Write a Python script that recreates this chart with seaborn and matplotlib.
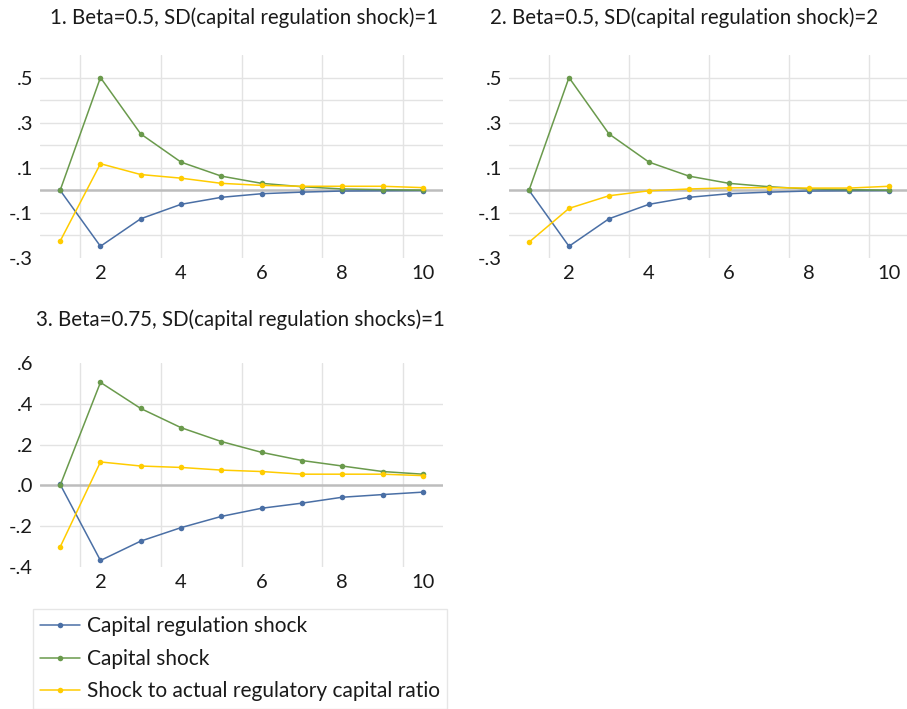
import numpy as np
import pandas as pd
import matplotlib
matplotlib.use("Agg")
import matplotlib.pyplot as plt
import seaborn as sns

# ---------------- data ----------------
periods = list(range(1, 11))
series_names = ["Capital regulation shock", "Capital shock",
                "Shock to actual regulatory capital ratio"]

p1_reg = [0.0, -0.248, -0.126, -0.062, -0.031, -0.015, -0.008, -0.003, -0.002, -0.001]
p1_cap = [0.0, 0.500, 0.250, 0.125, 0.063, 0.031, 0.016, 0.006, 0.003, 0.001]
p1_act = [-0.225, 0.118, 0.070, 0.054, 0.031, 0.022, 0.018, 0.018, 0.018, 0.012]

p2_reg = [0.0, -0.248, -0.126, -0.062, -0.031, -0.015, -0.008, -0.003, -0.002, -0.001]
p2_cap = [0.0, 0.500, 0.250, 0.125, 0.063, 0.031, 0.016, 0.006, 0.003, 0.001]
p2_act = [-0.230, -0.080, -0.024, -0.002, 0.006, 0.011, 0.012, 0.010, 0.010, 0.018]

p3_reg = [0.005, -0.368, -0.273, -0.207, -0.152, -0.112, -0.087, -0.058, -0.045, -0.033]
p3_cap = [0.0, 0.505, 0.377, 0.283, 0.215, 0.162, 0.122, 0.095, 0.068, 0.055]
p3_act = [-0.302, 0.115, 0.095, 0.088, 0.075, 0.068, 0.055, 0.055, 0.055, 0.048]

titles = ["1. Beta=0.5, SD(capital regulation shock)=1",
          "2. Beta=0.5, SD(capital regulation shock)=2",
          "3. Beta=0.75, SD(capital regulation shocks)=1"]

x_ticks = [2, 4, 6, 8, 10]
x_tick_labels = ["2", "4", "6", "8", "10"]
y_ticks_12 = [0.5, 0.3, 0.1, -0.1, -0.3]
y_labels_12 = [".5", ".3", ".1", "-.1", "-.3"]
y_ticks_3 = [0.6, 0.4, 0.2, 0.0, -0.2, -0.4]
y_labels_3 = [".6", ".4", ".2", ".0", "-.2", "-.4"]

colors = ["#4a6fa5", "#6a9a4c", "#ffcc00"]

# ---------------- style ----------------
sns.set_theme(style="white")
plt.rcParams["font.family"] = ["Lato", "DejaVu Sans"]

W, H = 907, 709
fig = plt.figure(figsize=(W / 100, H / 100), dpi=100)


def px_axes(left, top, right, bottom):
    return fig.add_axes([left / W, 1 - bottom / H, (right - left) / W, (bottom - top) / H])


def make_df(reg, cap, act):
    return pd.DataFrame({
        "period": periods * 3,
        "value": reg + cap + act,
        "series": [series_names[0]] * 10 + [series_names[1]] * 10 + [series_names[2]] * 10,
    })


panels = [
    (make_df(p1_reg, p1_cap, p1_act), (40, 55, 443, 258), (-0.3, 0.6),
     y_ticks_12, y_labels_12, np.round(np.arange(-0.2, 0.55, 0.1), 2), (244, 18), 10.5),
    (make_df(p2_reg, p2_cap, p2_act), (509, 55, 907, 258), (-0.3, 0.6),
     y_ticks_12, y_labels_12, np.round(np.arange(-0.2, 0.55, 0.1), 2), (684, 18), 10.45),
    (make_df(p3_reg, p3_cap, p3_act), (40, 363, 443, 567), (-0.4, 0.6),
     y_ticks_3, y_labels_3, [0.4, 0.2, -0.2], (240, 320), 10.5),
]

tick_fs = 14.5
axes = []
for df, box, ylim, yt, yl, ygrid, tpos, xmax in panels:
    ax = px_axes(*box)
    axes.append(ax)
    # grid lines
    for gx in [1.5, 3.5, 5.5, 7.5, 9.5]:
        ax.axvline(gx, color="#e3e3e3", lw=1.0, zorder=0)
    for gy in ygrid:
        if abs(gy) > 1e-9:
            ax.axhline(gy, color="#e3e3e3", lw=1.0, zorder=0)
    ax.axhline(0, color="#bdbdbd", lw=1.8, zorder=1)

    sns.lineplot(data=df, x="period", y="value", hue="series", hue_order=series_names,
                 palette=colors, marker="o", markersize=4, markeredgewidth=0,
                 linewidth=1.1, ax=ax, legend=True, zorder=3)
    ax.set_xlim(0.5, xmax)
    ax.set_ylim(*ylim)
    ax.set_xticks(x_ticks)
    ax.set_xticklabels(x_tick_labels, fontsize=tick_fs)
    ax.set_yticks(yt)
    ax.set_yticklabels(yl, fontsize=tick_fs)
    ax.tick_params(axis="both", length=0, pad=5, colors="#1a1a1a")
    ax.set_xlabel("")
    ax.set_ylabel("")
    for s in ax.spines.values():
        s.set_visible(False)
    ax.grid(False)
    ax.get_legend().remove()
    fig.text(tpos[0] / W, 1 - tpos[1] / H, titles[len(axes) - 1], ha="center", va="center",
             fontsize=14.8, color="#1a1a1a")

handles, labels = axes[0].get_legend_handles_labels()
leg = fig.legend(handles, labels, loc="upper left",
                 bbox_to_anchor=(33 / W, 1 - 609 / H - 0.01, 414 / W, 0.01), mode="expand",
                 fontsize=15, frameon=True, fancybox=False, handlelength=1.9,
                 handletextpad=0.35, labelspacing=0.6, borderpad=0.35,
                 borderaxespad=0)
leg.get_frame().set_edgecolor("#e0e0e0")
leg.get_frame().set_linewidth(1.0)
for t in leg.get_texts():
    t.set_color("#1a1a1a")

fig.savefig("out.png", dpi=100, facecolor="white")
